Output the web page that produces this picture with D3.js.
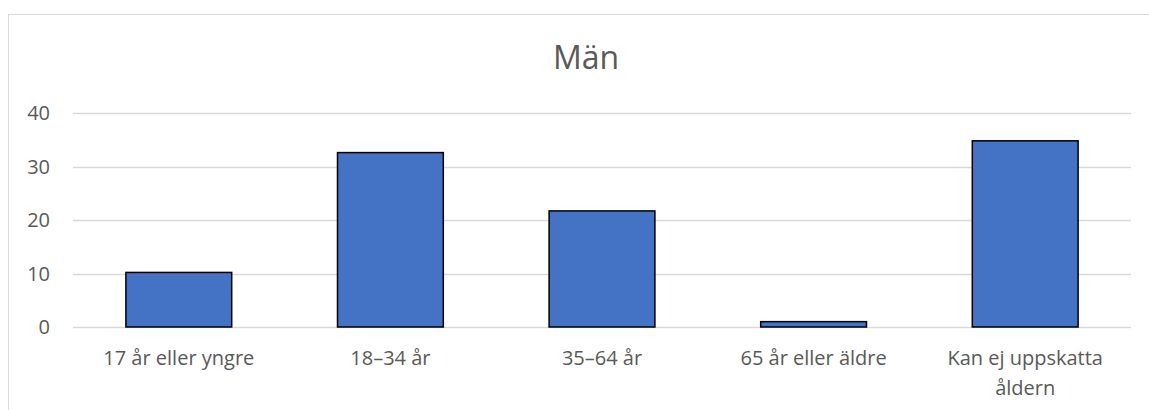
<!DOCTYPE html>
<html><head><meta charset="utf-8">
<script src="https://cdn.jsdelivr.net/npm/d3@7"></script>
<style>body{margin:0;background:#fff;}svg{display:block;}</style>
</head><body><svg id="c" width="1149" height="410"></svg>
<script>
const categories = ["17 år eller yngre", "18–34 år", "35–64 år", "65 år eller äldre", "Kan ej uppskatta åldern"];
const labelLines = [["17 år eller yngre"], ["18–34 år"], ["35–64 år"], ["65 år eller äldre"], ["Kan ej uppskatta", "åldern"]];
const values = [10.2, 32.6, 21.7, 1.0, 34.8];
const yTicks = [0, 10, 20, 30, 40];
const title = "Män";

const svg = d3.select("#c");
const font = "'Open Sans', Carlito, Calibri, sans-serif";
const txt = "#595959";
// chart border
svg.append("rect").attr("x", 8.5).attr("y", 14.5).attr("width", 1160).attr("height", 420)
  .attr("fill", "#fff").attr("stroke", "#d9d9d9").attr("stroke-width", 1);

const m = {l: 73, r: 1131, t: 113, b: 327};
const x = d3.scaleBand().domain(categories).range([m.l, m.r]).paddingInner(0.5).paddingOuter(0.25);
const y = d3.scaleLinear().domain([0, 40]).range([m.b, m.t]);

// gridlines
svg.append("g").selectAll("line").data(yTicks).join("line")
  .attr("x1", m.l).attr("x2", m.r).attr("y1", d => Math.round(y(d)) + 0.5).attr("y2", d => Math.round(y(d)) + 0.5)
  .attr("stroke", "#d9d9d9").attr("stroke-width", 1.5);

// y labels
svg.append("g").selectAll("text").data(yTicks).join("text")
  .attr("x", 50).attr("y", d => y(d)).attr("dy", "0.36em").attr("text-anchor", "end")
  .attr("font-family", font).attr("font-size", 20).attr("fill", txt).text(d => d);

// bars
svg.append("g").selectAll("rect").data(values).join("rect")
  .attr("x", (d, i) => x(categories[i])).attr("width", x.bandwidth())
  .attr("y", d => y(d)).attr("height", d => y(0) - y(d))
  .attr("fill", "#4472c4").attr("stroke", "#000").attr("stroke-width", 1.5);

// x labels
const xl = svg.append("g").selectAll("text").data(categories).join("text")
  .attr("x", d => x(d) + x.bandwidth() / 2).attr("y", 365).attr("text-anchor", "middle")
  .attr("font-family", font).attr("font-size", 20).attr("fill", txt);
xl.each(function(d, i) {
  d3.select(this).selectAll("tspan").data(labelLines[i]).join("tspan")
    .attr("x", x(d) + x.bandwidth() / 2).attr("dy", (t, j) => j === 0 ? 0 : 29.5).text(t => t);
});

// title
svg.append("text").attr("x", 586).attr("y", 69).attr("text-anchor", "middle")
  .attr("font-family", font).attr("font-size", 32).attr("fill", txt).text(title);
</script></body></html>
